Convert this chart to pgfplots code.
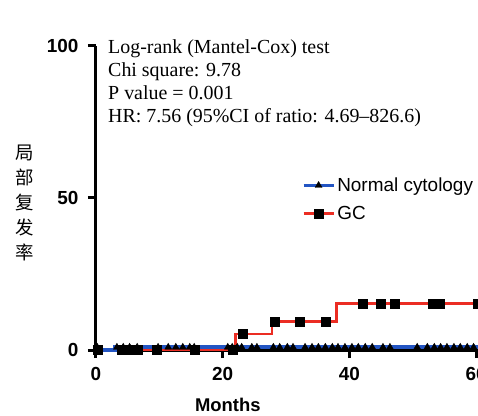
\documentclass[border=0pt]{standalone}
\usepackage{fontspec}
\setmainfont{Liberation Serif}
\newfontfamily\arial{Liberation Sans}
\newfontfamily\cjk{Noto Sans CJK SC}
\usepackage{pgfplots}
\pgfplotsset{compat=1.18}

\definecolor{kmblue}{RGB}{35,85,195}
\definecolor{kmred}{RGB}{235,45,35}

\begin{document}
\begin{tikzpicture}
\begin{axis}[
  scale only axis,
  width=382bp, height=304bp,
  xmin=0, xmax=60.3, ymin=0, ymax=100,
  axis lines=left,
  x axis line style={line width=3bp, -},
  y axis line style={line width=3bp, -},
  xtick={0,20,40,60}, ytick={0,50,100},
  tick align=outside,
  major tick length=8bp,
  xtick style={line width=3bp, black},
  ytick style={line width=3bp, black},
  ticklabel style={font=\arial\bfseries\fontsize{19}{19}\selectfont},
  xticklabel style={yshift=-6bp},
  yticklabel style={xshift=-6bp},
  /pgf/number format/assume math mode=true,
  clip=false,
  legend style={draw=none, fill=none, at={(axis cs:32,58)}, anchor=north west,
    font=\arial\fontsize{19}{19}\selectfont, row sep=9bp},
  legend cell align=left,
  legend image code/.code={\draw[mark repeat=2,mark phase=2,#1]
    plot coordinates {(0bp,0bp) (15bp,0bp) (30bp,0bp)};},
]
  \coordinate (o) at (axis cs:0,0);

  % step curves
  \addplot[kmred, line width=2.6bp, const plot, forget plot]
    coordinates {(0,0) (22,5.2) (27.8,9.3) (38,15.3) (60.3,15.3)};
  \addplot[kmblue, line width=3.6bp, const plot, forget plot]
    coordinates {(0,0) (3,0.9) (60.3,0.9)};

  % censored, normal cytology
  \addplot[only marks, mark=triangle*, mark size=4bp, black, forget plot]
    coordinates {
      (0.2,0.9) (3.3,0.9) (4.3,0.9) (5.3,0.9) (6.5,0.9) (9.8,0.9)
      (11.4,0.9) (12.6,0.9) (13.7,0.9) (14.8,0.9) (15.5,0.9)
      (20.8,0.9) (21.5,0.9) (22.3,0.9) (23,0.9) (24.6,0.9) (25.4,0.9)
      (28,0.9) (29,0.9) (30.2,0.9) (31.1,0.9) (33,0.9) (34.1,0.9)
      (35.1,0.9) (36.2,0.9) (37.3,0.9) (38.2,0.9) (39.3,0.9) (40.4,0.9)
      (41.4,0.9) (42.5,0.9) (43.6,0.9) (45.3,0.9) (46.4,0.9) (50.7,0.9)
      (52.3,0.9) (53.4,0.9) (54.4,0.9) (55.4,0.9) (56.5,0.9) (57.5,0.9)
      (58.6,0.9) (59.6,0.9)
    };
  % censored, GC
  \addplot[only marks, mark=square*, mark size=4.5bp, black, forget plot]
    coordinates {
      (0.2,0) (4,0) (5.2,0) (6.6,0) (9.6,0) (15.6,0) (21.5,0)
      (23.1,5.2) (28.2,9.3) (32.1,9.3) (36.2,9.3)
      (42.1,15.3) (45,15.3) (47.1,15.3) (53.2,15.3) (54.2,15.3) (60.2,15.3)
    };

  \addlegendimage{kmblue, line width=3.4bp, mark=triangle*, mark size=4bp,
    mark options={black, fill=black, line width=0.4pt}}
  \addlegendentry{Normal cytology}
  \addlegendimage{kmred, line width=2.6bp, mark=square*, mark size=4.5bp,
    mark options={black, fill=black, line width=0.4pt}}
  \addlegendentry{GC}

  \node[anchor=north west, align=left, inner sep=0pt,
    font=\fontsize{20}{23}\selectfont] at (axis cs:1.9,102)
    {Log-rank (Mantel-Cox) test\\Chi square: 9.78\\P value = 0.001\\
     HR: 7.56 (95\%CI of ratio: 4.69–826.6)};
  \node[font=\arial\bfseries\fontsize{18.5}{18.5}\selectfont]
    at (axis cs:20.8,0) [yshift=-55bp] {Months};
  \node[font=\cjk\fontsize{18.5}{25}\selectfont, align=center]
    at (axis cs:0,50) [xshift=-71bp, yshift=-5bp] {局\\部\\复\\发\\率};
\end{axis}
\pgfresetboundingbox
\path[use as bounding box] (o) ++(-96bp,-66bp) rectangle ++(478bp,416bp);
\end{tikzpicture}
\end{document}
